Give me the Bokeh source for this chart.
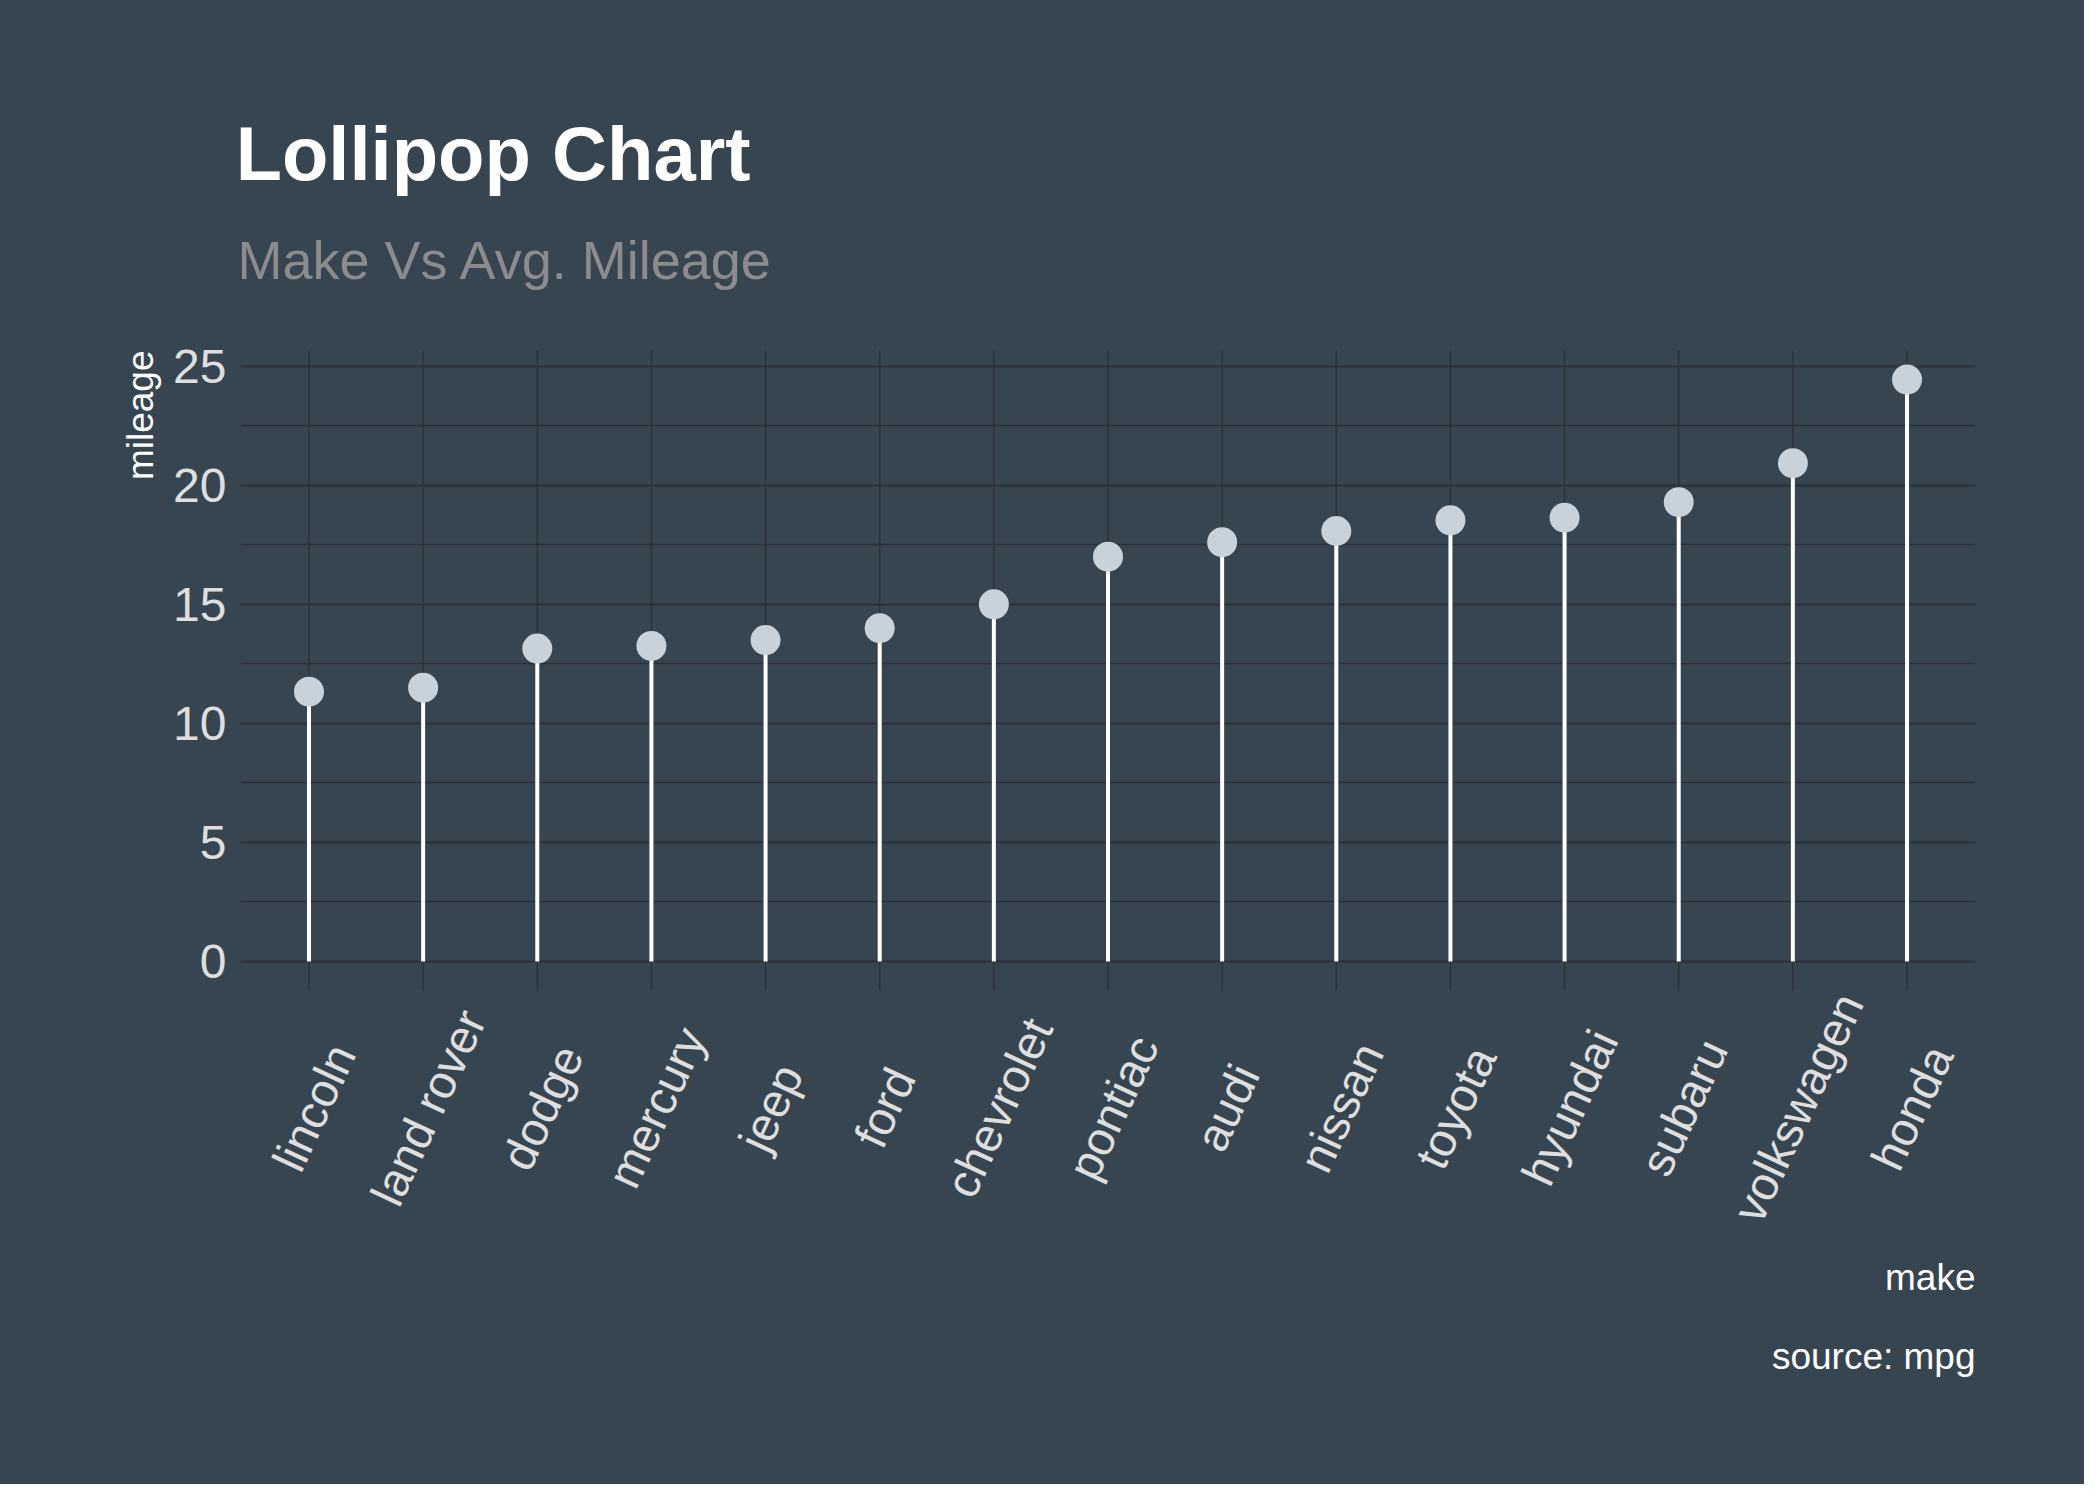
from bokeh.plotting import figure
from bokeh.models import Range1d, SingleIntervalTicker, Title, ColumnDataSource
from bokeh.core.properties import value
from bokeh.embed import file_html
from bokeh.resources import INLINE

# ---------------- data ----------------
makes = ["lincoln", "land rover", "dodge", "mercury", "jeep", "ford",
         "chevrolet", "pontiac", "audi", "nissan", "toyota", "hyundai",
         "subaru", "volkswagen", "honda"]
mileage = [11.33, 11.50, 13.14, 13.25, 13.50, 14.00, 15.00, 17.00,
           17.61, 18.08, 18.53, 18.64, 19.29, 20.93, 24.44]
y_tick_interval = 5
title_text = "Lollipop Chart"
subtitle_text = "Make Vs Avg. Mileage"
x_title = "make"
y_title = "mileage"
caption_text = "source: mpg"

# ---------------- style ----------------
BG = "#374550"
GRID = "#2c3034"
DOT = "#c8d2da"
STEM = "#ffffff"
TICK_TXT = "#dedede"
SUB_TXT = "#8c8c8f"
FONT = "Liberation Sans"

W, H = 2084, 1484
PANEL_LEFT, PANEL_W = 240, 1735
PANEL_TOP, PANEL_BOTTOM = 350, 990

positions = list(range(1, len(makes) + 1))
ymax = max(mileage)
pad = 0.05 * ymax
y_lo, y_hi = -pad, ymax + pad
ppu = (PANEL_BOTTOM - PANEL_TOP) / (y_hi - y_lo)   # pixels per mileage unit


def row(py):
    """data y for a pixel row of the canvas"""
    return y_hi - (py - PANEL_TOP) / ppu


src = ColumnDataSource(dict(make=makes, pos=positions, mileage=mileage))

p = figure(
    width=W, height=H,
    frame_width=PANEL_W, frame_height=H,
    min_border_left=PANEL_LEFT, min_border_right=W - PANEL_LEFT - PANEL_W,
    min_border_top=0, min_border_bottom=0,
    x_range=Range1d(0.4, len(makes) + 0.6),
    y_range=Range1d(row(H), row(0)),
    x_axis_location=None, title=None,
    output_backend="svg", toolbar_location=None,
    background_fill_color=BG, border_fill_color=BG,
)
p.outline_line_color = None
p.outline_line_alpha = 0
# colour behind the canvas, so that no light seam shows at the frame edges
p.styles = {"background-color": BG}

# y axis (limited to the panel)
p.yaxis.bounds = (y_lo, y_hi)
p.yaxis.ticker = SingleIntervalTicker(interval=y_tick_interval, num_minor_ticks=2)
p.yaxis.axis_line_color = None
p.yaxis.major_tick_line_color = None
p.yaxis.minor_tick_line_color = None
p.yaxis.major_tick_in = 0
p.yaxis.major_tick_out = 0
p.yaxis.minor_tick_in = 0
p.yaxis.minor_tick_out = 0
p.yaxis.major_label_standoff = 14
p.yaxis.major_label_text_font = FONT
p.yaxis.major_label_text_font_size = "48px"
p.yaxis.major_label_text_color = TICK_TXT

# horizontal grid
p.ygrid.grid_line_color = GRID
p.ygrid.grid_line_width = 1.3
p.ygrid.minor_grid_line_color = GRID
p.ygrid.minor_grid_line_width = 1.3
p.xgrid.visible = False

# vertical grid lines, one per make, spanning the panel
p.segment(x0="pos", y0=y_lo, x1="pos", y1=y_hi, source=src,
          line_color=GRID, line_width=1.3)

# lollipops
p.segment(x0="pos", y0=0, x1="pos", y1="mileage", source=src,
          line_color=STEM, line_width=4)
p.scatter(x="pos", y="mileage", source=src, size=30,
          fill_color=DOT, line_color=None)

# category labels (rotated 65 deg, centred)
p.text(x="pos", y=row(1107), text="make", source=src,
       angle=65, angle_units="deg", x_offset=5,
       text_align="center", text_baseline="middle",
       text_font=value(FONT), text_font_size=value("47px"),
       text_color=TICK_TXT)

x_left, x_right = p.x_range.start, p.x_range.end

# title + subtitle
p.text(x=[x_left], y=[row(153)], text=[title_text], x_offset=-5,
       text_align="left", text_baseline="alphabetic",
       text_font=value(FONT), text_font_style="bold",
       text_font_size=value("76px"), text_color="#ffffff")
p.text(x=[x_left], y=[row(259)], text=[subtitle_text], x_offset=-3,
       text_align="left", text_baseline="alphabetic",
       text_font=value(FONT), text_font_size=value("54px"),
       text_color=SUB_TXT)

# x title and caption (right aligned to the panel)
p.text(x=[x_right], y=[row(1277)], text=[x_title],
       text_align="right", text_baseline="alphabetic",
       text_font=value(FONT), text_font_size=value("37px"),
       text_color="#ffffff")
p.text(x=[x_right], y=[row(1356)], text=[caption_text],
       text_align="right", text_baseline="alphabetic",
       text_font=value(FONT), text_font_size=value("37px"),
       text_color="#ffffff")

# y title, aligned to the top of the panel
p.add_layout(Title(text=y_title, align="right", offset=PANEL_TOP,
                   vertical_align="bottom", standoff=20,
                   text_font=FONT, text_font_style="normal",
                   text_font_size="37px", text_color="#ffffff"), "left")

open("out.html", "w").write(file_html(p, INLINE, title="Lollipop Chart"))
